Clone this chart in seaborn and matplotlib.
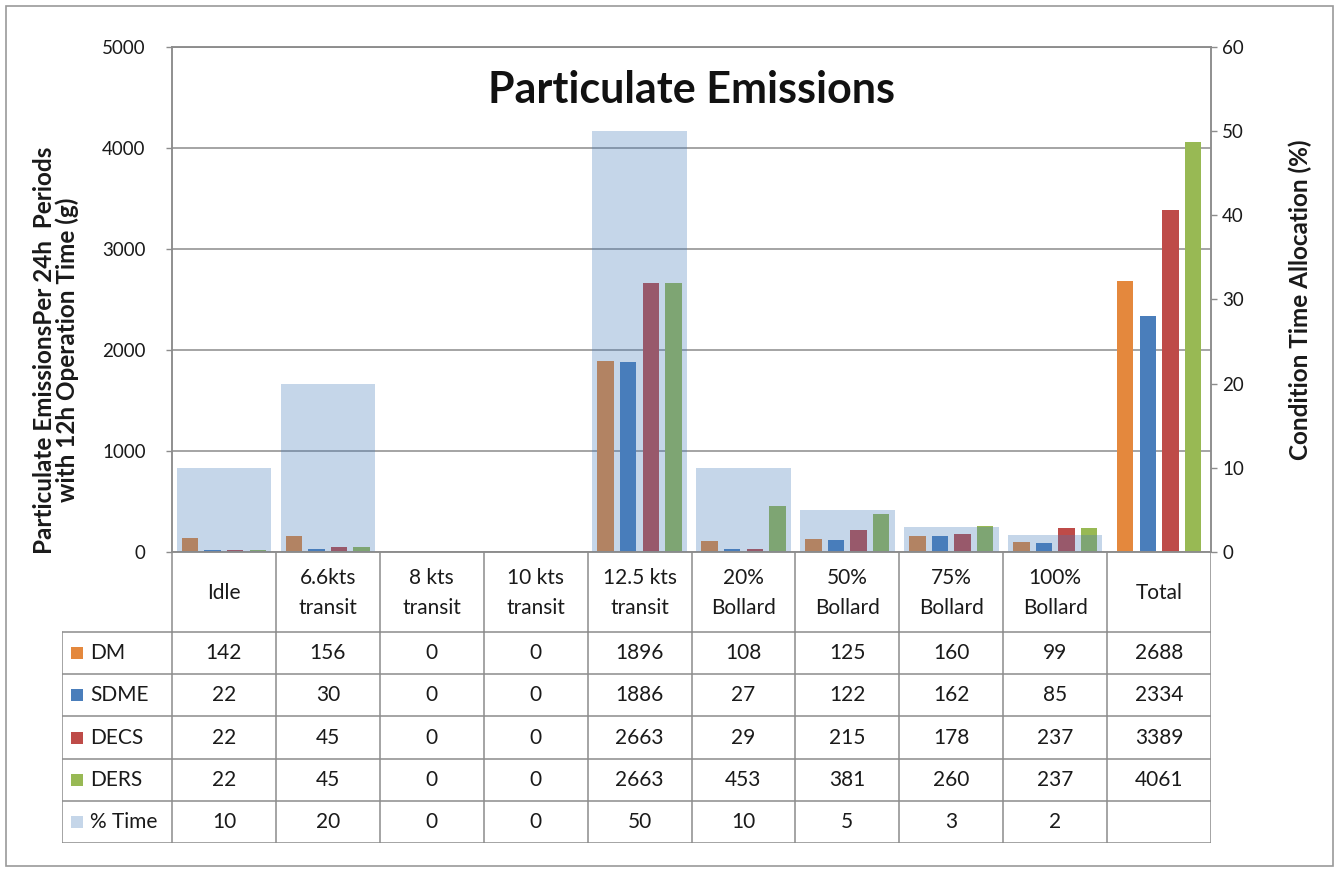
import numpy as np
import pandas as pd
import matplotlib
matplotlib.use("Agg")
import matplotlib.pyplot as plt
import seaborn as sns
from matplotlib.patches import Rectangle
from matplotlib.lines import Line2D

# ---- data -------------------------------------------------------------
categories = ["Idle", "6.6kts\ntransit", "8 kts\ntransit", "10 kts\ntransit",
              "12.5 kts\ntransit", "20%\nBollard", "50%\nBollard", "75%\nBollard",
              "100%\nBollard", "Total"]
dm = [142, 156, 0, 0, 1896, 108, 125, 160, 99, 2688]
sdme = [22, 30, 0, 0, 1886, 27, 122, 162, 85, 2334]
decs = [22, 45, 0, 0, 2663, 29, 215, 178, 237, 3389]
ders = [22, 45, 0, 0, 2663, 453, 381, 260, 237, 4061]
pct_time = [10, 20, 0, 0, 50, 10, 5, 3, 2, None]

series_names = ["DM", "SDME", "DECS", "DERS"]
time_name = "% Time"
title = "Particulate Emissions"
left_label = "Particulate EmissionsPer 24h  Periods\nwith 12h Operation Time (g)"
right_label = "Condition Time Allocation (%)"

series_colors = ["#E4883D", "#4A7EBB", "#BE4B48", "#98B954"]
time_color = "#447BBB"
time_alpha = 0.31
grid_color = "#8C8C8C"
text_color = "#1A1A1A"

# ---- style ------------------------------------------------------------
sns.set_style("white")
plt.rcParams["font.family"] = ["Lato", "DejaVu Sans"]
plt.rcParams["text.color"] = text_color

W, H = 1339, 872
fig = plt.figure(figsize=(W / 100, H / 100), dpi=100)

# pixel geometry of the plot area
x0, x1 = 172, 1211
y_top, y_base = 47, 552
ax = fig.add_axes([x0 / W, (H - y_base) / H, (x1 - x0) / W, (y_base - y_top) / H])

long = pd.DataFrame({
    "category": np.tile(categories, len(series_names)),
    "series": np.repeat(series_names, len(categories)),
    "value": np.concatenate([dm, sdme, decs, ders]),
})
sns.barplot(data=long, x="category", y="value", hue="series", order=categories,
            hue_order=series_names, palette=series_colors, saturation=1,
            width=0.87, gap=0.27, linewidth=0, legend=False, ax=ax)

ax.set_ylim(0, 5000)
ax.set_yticks(range(0, 5001, 1000))
ax.set_axisbelow(True)
ax.yaxis.grid(True, color=grid_color, linewidth=1.1)
ax.xaxis.grid(False)
ax.set_xlabel("")
ax.set_ylabel("")
ax.set_xticks([])
for side in ["left", "top", "bottom", "right"]:
    ax.spines[side].set_visible(True)
    ax.spines[side].set_color(grid_color)
    ax.spines[side].set_linewidth(1.1)
ax.tick_params(axis="y", which="major", direction="out", length=4, width=1,
               color=grid_color, left=True, pad=15, labelsize=13.5,
               labelcolor=text_color)

# time share on the secondary axis, drawn over the emission bars
ax2 = ax.twinx()
time_df = pd.DataFrame({"category": categories, "pct": pct_time}).dropna()
sns.barplot(data=time_df, x="category", y="pct", order=categories,
            color=time_color, saturation=1, alpha=time_alpha, width=0.91,
            linewidth=0, ax=ax2)
ax2.set_ylim(0, 60)
ax2.set_yticks(range(0, 61, 10))
ax2.set_xlabel("")
ax2.set_ylabel("")
ax2.set_xticks([])
for side in ["left", "top", "bottom", "right"]:
    ax2.spines[side].set_color(grid_color)
    ax2.spines[side].set_linewidth(1.1)
ax2.tick_params(axis="y", which="major", direction="out", length=4, width=1,
                color=grid_color, right=True, pad=4, labelsize=13.5,
                labelcolor=text_color)
ax.set_xlim(-0.5, len(categories) - 0.5)
ax2.set_xlim(-0.5, len(categories) - 0.5)

ax.text(0.5, 0.915, title, transform=ax.transAxes, ha="center", va="center",
        fontsize=31, fontweight="bold", color="#111111")

fig.text(56 / W, 1 - 350 / H, left_label, rotation=90, ha="center", va="center",
         multialignment="center", fontsize=17.5, fontweight="bold", linespacing=0.95)
fig.text(1300 / W, 1 - 300 / H, right_label, rotation=90, ha="center", va="center",
         fontsize=17.5, fontweight="bold")

# ---- data table under the plot -----------------------------------------
t_left, t_bottom = 62, 843
col_px = (x1 - x0) / len(categories)
axt = fig.add_axes([t_left / W, (H - t_bottom) / H, (x1 - t_left) / W, (t_bottom - y_base) / H])
axt.set_xlim(-0.5 - (x0 - t_left) / col_px, len(categories) - 0.5)
axt.set_ylim(t_bottom - y_base, 0)
axt.axis("off")

header_h = 80
row_h = (t_bottom - y_base - header_h) / 5
line_kw = dict(color=grid_color, linewidth=1.1)
x_left = -0.5 - (x0 - t_left) / col_px
x_right = len(categories) - 0.5
table_fs = 15

# header cells (category names)
for i in range(len(categories) + 1):
    axt.add_line(Line2D([i - 0.5, i - 0.5], [0, header_h], **line_kw))
for i, cat in enumerate(categories):
    axt.text(i, header_h / 2 + 1, cat, ha="center", va="center", fontsize=table_fs,
             linespacing=1.6, color=text_color)

rows = [(name, vals, col) for name, vals, col in zip(series_names, [dm, sdme, decs, ders], series_colors)]
rows.append((time_name, pct_time, time_color))

for r, (name, vals, col) in enumerate(rows):
    top = header_h + r * row_h
    mid = top + row_h / 2
    axt.add_line(Line2D([x_left, x_right], [top, top], **line_kw))
    alpha = time_alpha if name == time_name else 1.0
    sq = 12 / col_px
    axt.add_patch(Rectangle((x_left + 9 / col_px, mid - 6), sq, 12, facecolor=col,
                            alpha=alpha, linewidth=0))
    axt.text(x_left + 28 / col_px, mid, name, ha="left", va="center", fontsize=table_fs,
             color=text_color)
    for i, v in enumerate(vals):
        if v is None:
            continue
        axt.text(i, mid, f"{int(v)}", ha="center", va="center", fontsize=table_fs,
                 color=text_color)
axt.add_line(Line2D([x_left, x_right], [t_bottom - y_base] * 2, **line_kw))
axt.add_line(Line2D([x_left, x_left], [header_h, t_bottom - y_base], **line_kw))
for i in range(len(categories) + 1):
    axt.add_line(Line2D([i - 0.5, i - 0.5], [header_h, t_bottom - y_base], **line_kw))

# chart frame
fig.patches.append(Rectangle((6 / W, 6 / H), 1 - 12 / W, 1 - 12 / H, transform=fig.transFigure,
                             fill=False, edgecolor="#9A9A9A", linewidth=1.2))

fig.savefig("out.png", dpi=100, facecolor="white")
